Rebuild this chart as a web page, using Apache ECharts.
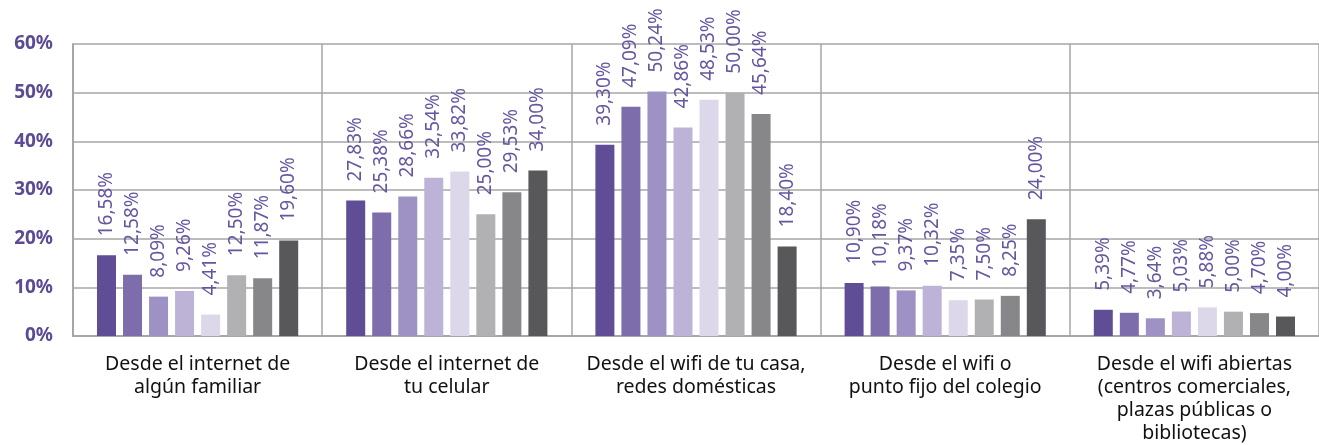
<!DOCTYPE html>
<html>
<head>
<meta charset="utf-8">
<script src="https://cdn.jsdelivr.net/npm/echarts@6/dist/echarts.min.js"></script>
<style>
    html, body { margin: 0; padding: 0; background: #fff; }
    #chart { width: 1319px; height: 445px; }
</style>
</head>
<body>
<div id="chart"></div>
<script>
// categorías (eje x)
const categories = [
    'Desde el internet de\nalgún familiar',
    'Desde el internet de\ntu celular',
    'Desde el wifi de tu casa,\nredes domésticas',
    'Desde el wifi o\npunto fijo del colegio',
    'Desde el wifi abiertas\n(centros comerciales,\nplazas públicas o\nbibliotecas)',
]

// una serie por color, valores en %
const serie1 = [16.58, 27.83, 39.30, 10.90, 5.39]
const serie2 = [12.58, 25.38, 47.09, 10.18, 4.77]
const serie3 = [8.09, 28.66, 50.24, 9.37, 3.64]
const serie4 = [9.26, 32.54, 42.86, 10.32, 5.03]
const serie5 = [4.41, 33.82, 48.53, 7.35, 5.88]
const serie6 = [12.50, 25.00, 50.00, 7.50, 5.00]
const serie7 = [11.87, 29.53, 45.64, 8.25, 4.70]
const serie8 = [19.60, 34.00, 18.40, 24.00, 4.00]

const yTicks = [0, 10, 20, 30, 40, 50, 60]

const allSeries = [serie1, serie2, serie3, serie4, serie5, serie6, serie7, serie8]
const colors = ['#5f4e96', '#7d6daa', '#9e91c3', '#bdb3d6', '#dcd8ea', '#b1b1b3', '#87878a', '#58585a']

const myChart = echarts.init(document.getElementById('chart'))

myChart.setOption({
    animation: false,
    grid: { left: 73, right: 0, top: 44, bottom: 108 },
    xAxis: {
        type: 'category',
        data: categories,
        axisLine: { show: true, lineStyle: { color: '#a6a6a6', width: 2 } },
        axisTick: { show: false },
        axisLabel: {
            interval: 0,
            color: '#111',
            fontFamily: 'Noto Sans',
            fontSize: 19.5,
            lineHeight: 23,
            margin: 17,
        },
        splitLine: { show: true, interval: 0, lineStyle: { color: '#a6a6a6', width: 1.5 } },
    },
    yAxis: {
        type: 'value',
        min: yTicks[0],
        max: yTicks[yTicks.length - 1],
        interval: 10,
        axisLine: { show: true, lineStyle: { color: '#a6a6a6', width: 2 } },
        axisTick: { show: false },
        axisLabel: {
            formatter: '{value}%',
            color: '#5c4a95',
            fontFamily: 'Noto Sans',
            fontWeight: 'bold',
            fontSize: 19,
            margin: 20,
        },
        splitLine: { show: true, lineStyle: { color: '#a6a6a6', width: 1.5 } },
    },
    series: allSeries.map((vals, i) => ({
        type: 'bar',
        name: 'Serie ' + (i + 1),
        data: vals,
        barWidth: 19,
        barGap: '37%',
        itemStyle: { color: colors[i] },
        label: {
            show: true,
            position: 'top',
            rotate: 90,
            align: 'left',
            verticalAlign: 'middle',
            distance: 19,
            color: '#6655a0',
            fontFamily: 'Noto Sans',
            fontSize: 19,
            formatter: (p) => p.value.toFixed(2).replace('.', ',') + '%',
        },
    })),
})
</script>
</body>
</html>
